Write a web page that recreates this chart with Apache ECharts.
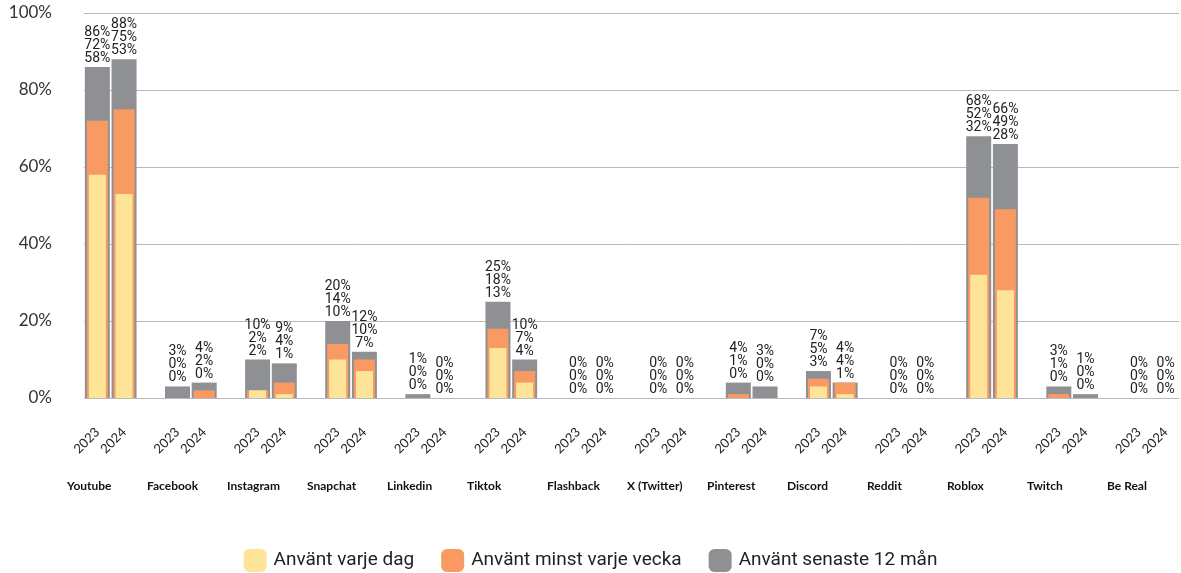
<!DOCTYPE html>
<html>
<head>
<meta charset="utf-8">
<script src="https://cdn.jsdelivr.net/npm/echarts@6/dist/echarts.min.js"></script>
<style>
  html, body { margin: 0; padding: 0; background: #fff; }
  #chart { width: 1181px; height: 573px; }
</style>
</head>
<body>
<div id="chart"></div>
<script>
// data, two values per platform: 2023, 2024
const platforms = ['Youtube', 'Facebook', 'Instagram', 'Snapchat', 'Linkedin', 'Tiktok', 'Flashback',
  'X (Twitter)', 'Pinterest', 'Discord', 'Reddit', 'Roblox', 'Twitch', 'Be Real'];
const years = ['2023', '2024'];
const senaste12 = [86, 88, 3, 4, 10, 9, 20, 12, 1, 0, 25, 10, 0, 0, 0, 0, 4, 3, 7, 4, 0, 0, 68, 66, 3, 1, 0, 0];
const minstVecka = [72, 75, 0, 2, 2, 4, 14, 10, 0, 0, 18, 7, 0, 0, 0, 0, 1, 0, 5, 4, 0, 0, 52, 49, 1, 0, 0, 0];
const varjeDag = [58, 53, 0, 0, 2, 1, 10, 7, 0, 0, 13, 4, 0, 0, 0, 0, 0, 0, 3, 1, 0, 0, 32, 28, 0, 0, 0, 0];
const yTicks = [0, 20, 40, 60, 80, 100];

const seriesNames = ['Använt senaste 12 mån', 'Använt minst varje vecka', 'Använt varje dag'];
const colors = ['#8e9094', '#f89a62', '#fee498'];

// slots: 2023, 2024, empty gap between platforms
let slots = [], yearLbl = [], grey = [], orange = [], yellow = [], lbl = [];
platforms.forEach(function (p, i) {
  years.forEach(function (y, j) {
    let k = i * 2 + j;
    slots.push(p + ' ' + y);
    yearLbl.push(y);
    grey.push(senaste12[k]);
    orange.push(minstVecka[k]);
    yellow.push(varjeDag[k]);
    lbl.push(senaste12[k] + '%\n' + minstVecka[k] + '%\n' + varjeDag[k] + '%');
  });
  if (i < platforms.length - 1) {
    slots.push('gap' + i);
    yearLbl.push('');
    grey.push('-'); orange.push('-'); yellow.push('-');
    lbl.push('');
  }
});

const font = 'Lato, "Noto Sans", sans-serif';

let myChart = echarts.init(document.getElementById('chart'));
myChart.setOption({
  animation: false,
  textStyle: { fontFamily: font },
  grid: [
    { left: 84, width: 1095, top: 13, bottom: 175 },
    { left: 27, width: 1120, top: 13, bottom: 175 }
  ],
  legend: {
    data: [seriesNames[2], seriesNames[1], seriesNames[0]],
    top: 544,
    left: 'center',
    icon: 'roundRect',
    itemWidth: 23,
    itemHeight: 23,
    itemGap: 27,
    textStyle: { fontSize: 19, color: '#222', fontFamily: 'Roboto, sans-serif', padding: [0, 0, 0, 2] }
  },
  xAxis: [
    {
      type: 'category', gridIndex: 0, data: slots,
      axisLine: { show: false }, axisTick: { show: false },
      axisLabel: {
        interval: 0, rotate: 45, margin: 32, fontSize: 13, color: '#222',
        formatter: function (v, idx) { return yearLbl[idx]; }
      }
    },
    { type: 'category', gridIndex: 0, data: slots, show: false },
    { type: 'category', gridIndex: 0, data: slots, show: false },
    {
      type: 'category', gridIndex: 1, data: platforms,
      axisLine: { show: false }, axisTick: { show: false },
      axisLabel: { interval: 0, align: 'left', margin: 82, fontSize: 12, fontWeight: 'bold', color: '#111' }
    }
  ],
  yAxis: [
    {
      type: 'value', gridIndex: 0, min: yTicks[0], max: yTicks[yTicks.length - 1], interval: 20,
      axisLine: { show: false }, axisTick: { show: false },
      axisLabel: { formatter: '{value}%', fontSize: 17, color: '#333', margin: 32 },
      splitLine: { lineStyle: { color: '#b9b9b9', width: 1 } }
    },
    { type: 'value', gridIndex: 1, show: false, min: 0, max: 100 }
  ],
  series: [
    {
      name: seriesNames[0], type: 'bar', xAxisIndex: 0, yAxisIndex: 0,
      data: grey, barWidth: 25, itemStyle: { color: colors[0] },
      label: {
        show: true, position: 'top', distance: 2, fontSize: 14, lineHeight: 13, color: '#222',
        fontFamily: 'Roboto, sans-serif',
        formatter: function (p) { return lbl[p.dataIndex]; }
      }
    },
    {
      name: seriesNames[1], type: 'bar', xAxisIndex: 1, yAxisIndex: 0,
      data: orange, barWidth: 21, itemStyle: { color: colors[1] }
    },
    {
      name: seriesNames[2], type: 'bar', xAxisIndex: 2, yAxisIndex: 0,
      data: yellow, barWidth: 17, itemStyle: { color: colors[2] }
    }
  ]
});
</script>
</body>
</html>
